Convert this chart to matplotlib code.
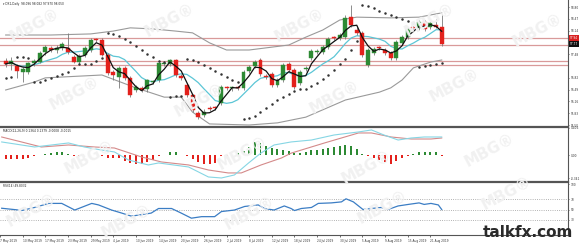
import numpy as np
import pandas as pd
import matplotlib.pyplot as plt
from matplotlib.transforms import blended_transform_factory

# ---- daily candles (DX1, 7 May - 23 Aug 2019) ----
opens = [97.29, 97.21, 97.15, 96.98, 96.98, 97.24, 97.26, 97.54, 97.66, 97.60,
         97.66, 97.66, 97.40, 97.26, 97.46, 97.60, 97.88, 97.88, 97.46, 96.98,
         96.84, 97.10, 96.82, 96.48, 96.54, 96.51, 96.70, 96.76, 97.21, 97.21,
         97.32, 96.87, 96.62, 96.34, 95.84, 95.78, 95.98, 95.98, 96.12, 96.54,
         96.54, 96.54, 96.54, 97.01, 97.15, 97.32, 96.87, 96.93, 96.62, 96.76,
         97.21, 97.04, 96.68, 97.07, 97.38, 97.54, 97.54, 97.68, 97.94, 97.94,
         97.96, 98.52, 98.16, 98.08, 97.18, 97.52, 97.66, 97.60, 97.52, 97.38,
         97.80, 97.96, 98.22, 98.22, 98.38, 98.24, 98.30, 98.24]
highs = [97.38, 97.40, 97.21, 97.12, 97.26, 97.35, 97.57, 97.74, 97.71, 97.74,
         97.82, 98.08, 97.46, 97.49, 97.71, 97.94, 97.94, 97.94, 97.52, 97.04,
         97.15, 97.15, 96.87, 96.62, 96.59, 96.79, 96.76, 97.26, 97.26, 97.35,
         97.35, 96.93, 96.68, 96.37, 95.89, 95.95, 96.03, 96.03, 96.62, 96.59,
         96.59, 96.59, 97.04, 97.18, 97.32, 97.38, 96.93, 96.98, 96.82, 97.24,
         97.26, 97.10, 97.04, 97.15, 97.63, 97.63, 97.74, 97.96, 97.99, 98.08,
         98.58, 98.86, 98.24, 98.13, 97.66, 97.68, 97.71, 97.66, 97.57, 97.88,
         98.02, 98.24, 98.27, 98.44, 98.44, 98.41, 98.47, 98.61]
lows = [97.12, 97.04, 96.82, 96.70, 96.93, 97.15, 97.24, 97.46, 97.54, 97.52,
        97.60, 97.49, 97.24, 97.21, 97.40, 97.54, 97.82, 97.43, 96.90, 96.76,
        96.54, 96.76, 96.28, 96.42, 96.42, 96.42, 96.65, 96.70, 97.15, 97.15,
        96.84, 96.76, 96.28, 95.86, 95.67, 95.72, 95.89, 95.92, 96.06, 96.48,
        96.45, 96.48, 96.48, 96.96, 97.10, 96.87, 96.79, 96.56, 96.56, 96.70,
        96.98, 96.51, 96.62, 97.01, 97.32, 97.49, 97.49, 97.63, 97.88, 97.88,
        97.91, 98.24, 98.02, 97.40, 97.12, 97.46, 97.60, 97.46, 97.32, 97.32,
        97.74, 97.91, 98.16, 98.16, 98.13, 98.19, 98.22, 97.71]
closes = [97.21, 97.29, 97.01, 97.07, 97.24, 97.29, 97.52, 97.68, 97.60, 97.66,
          97.77, 97.54, 97.26, 97.43, 97.66, 97.88, 97.87, 97.46, 96.96, 96.90,
          97.10, 96.82, 96.34, 96.56, 96.48, 96.76, 96.71, 97.24, 97.24, 97.32,
          96.90, 96.82, 96.34, 95.92, 95.72, 95.86, 95.95, 95.97, 96.56, 96.53,
          96.55, 96.53, 96.98, 97.12, 97.26, 96.93, 96.84, 96.62, 96.76, 97.18,
          97.04, 96.56, 96.98, 97.10, 97.57, 97.57, 97.68, 97.91, 97.93, 98.02,
          98.50, 98.30, 98.08, 97.46, 97.60, 97.63, 97.65, 97.52, 97.38, 97.82,
          97.96, 98.19, 98.21, 98.38, 98.19, 98.36, 98.24, 97.77]

# bollinger bands (bar index, price)
bb_up_idx = [0, 8, 15, 19, 22, 26, 30, 33, 36, 39, 43, 47, 50, 53, 56, 59, 62, 68, 73, 77]
bb_up_val = [98.02, 98.02, 98.05, 98.13, 98.22, 98.19, 98.13, 98.08, 97.80, 97.60,
             97.60, 97.68, 97.74, 97.96, 98.16, 98.44, 98.52, 98.50, 98.52, 98.64]
bb_lo_idx = [0, 5, 7, 17, 23, 28, 31, 33, 36, 43, 48, 53, 60, 66, 68, 70, 72, 75, 77]
bb_lo_val = [96.48, 96.70, 96.82, 96.90, 96.54, 96.28, 96.28, 95.86, 95.53, 95.50,
             95.56, 95.72, 96.20, 96.42, 96.54, 96.76, 97.10, 97.26, 97.32]

# horizontal support / resistance levels
levels = [97.936, 97.74, 97.292, 97.18]

# ---- MACD ----
macd_hist = [-0.06, -0.06, -0.06, -0.06, -0.045, -0.015, 0.008, 0.015, 0.03, 0.045,
             0.045, 0.015, -0.008, -0.008, 0.008, 0.008, 0.008, -0.008, -0.045, -0.045,
             -0.045, -0.09, -0.12, -0.135, -0.135, -0.105, -0.075, -0.015, 0.008, 0.045,
             0.045, 0.008, -0.015, -0.06, -0.105, -0.135, -0.135, -0.12, -0.015, -0.008,
             0.008, 0.03, 0.06, 0.12, 0.195, 0.18, 0.135, 0.105, 0.09, 0.075,
             0.06, 0.03, 0.03, 0.045, 0.075, 0.075, 0.09, 0.105, 0.12, 0.135,
             0.15, 0.135, 0.09, 0.015, -0.015, -0.045, -0.075, -0.105, -0.135, -0.09,
             -0.045, -0.015, 0.015, 0.045, 0.045, 0.045, 0.045, -0.015]
sig_idx = [-0.7, 2.8, 6.3, 11.1, 15.7, 19.2, 24, 27.5, 32.3, 35.8, 39.3, 41.6, 45.1,
           48.7, 50.4, 56.3, 62.3, 64.6, 68.1, 71.6, 75.1, 77]
sig_val = [0.271, 0.197, 0.122, 0.152, 0.122, 0.107, -0.027, -0.101, -0.146, -0.221,
           -0.265, -0.265, -0.146, -0.042, 0.03, 0.182, 0.331, 0.331, 0.271, 0.241,
           0.241, 0.256]
main_idx = [-0.7, 5.1, 8.1, 11.1, 13.9, 16.9, 19.2, 21.7, 25.2, 27, 32.3, 35.8, 38.1,
            40.4, 42.9, 45.1, 47.4, 50.4, 54, 58, 62.3, 64.6, 66.8, 69.3, 71.6, 73.9, 77]
main_val = [0.197, 0.122, 0.152, 0.182, 0.122, 0.077, 0.048, -0.072, -0.146, -0.116,
            -0.176, -0.325, -0.34, -0.295, -0.116, 0.033, 0.152, 0.197, 0.226, 0.301,
            0.346, 0.376, 0.301, 0.226, 0.256, 0.271, 0.271]

# ---- RSI(14) ----
rsi_idx = [-0.7, 2.3, 2.8, 5.1, 7.6, 9.9, 12.2, 15.2, 16.4, 18.7, 20.5, 22.2, 24,
           25.7, 27, 29.3, 31, 32.8, 34.6, 36.9, 38.1, 40.4, 42.2, 44.6, 45.7, 47.4,
           49.2, 50.4, 51, 52.2, 54, 55.2, 57.5, 59.3, 60.1, 61.4, 63.1, 64.6, 66.3,
           67.5, 69.3, 71.1, 73, 73.9, 75.1, 76.4, 77]
rsi_val = [52.5, 49, 48, 54, 62, 62, 49, 62, 59, 49, 43, 37, 40, 43, 52, 52, 43, 33,
           36, 36, 46, 49, 56, 59, 52, 49, 57, 52, 48, 52, 54, 62, 63, 65, 71, 65, 50,
           52, 54, 50, 57, 60, 63, 60, 62, 59, 50]

date_idx = [-1, 3, 7, 11, 15, 19, 23, 27, 31, 35, 39, 43, 47, 51, 55, 59, 63, 67, 71, 75]
date_lbl = ["7 May 2019", "10 May 2019", "17 May 2019", "23 May 2019", "29 May 2019",
            "4 Jun 2019", "10 Jun 2019", "14 Jun 2019", "20 Jun 2019", "26 Jun 2019",
            "2 Jul 2019", "8 Jul 2019", "12 Jul 2019", "18 Jul 2019", "24 Jul 2019",
            "30 Jul 2019", "5 Aug 2019", "9 Aug 2019", "15 Aug 2019", "21 Aug 2019"]

UP = "#2d8a34"
DN = "#e3211c"
FS = 2.1


def psar(high, low, step=0.02, max_step=0.2):
    """parabolic SAR computed from the candles"""
    n = len(high)
    sar = np.zeros(n)
    up = True
    af = step
    ep = high[0]
    sar[0] = min(low[:3])
    for i in range(1, n):
        s = sar[i - 1] + af * (ep - sar[i - 1])
        if up:
            s = min(s, low[i - 1], low[max(i - 2, 0)])
            if low[i] < s:
                up, s, ep, af = False, ep, low[i], step
            elif high[i] > ep:
                ep, af = high[i], min(af + step, max_step)
        else:
            s = max(s, high[i - 1], high[max(i - 2, 0)])
            if high[i] > s:
                up, s, ep, af = True, ep, high[i], step
            elif low[i] < ep:
                ep, af = low[i], min(af + step, max_step)
        sar[i] = s
    return sar


def style_axis(ax, sep_lw=1.6):
    ax.patch.set_alpha(0)
    ax.spines["top"].set_visible(False)
    ax.spines["left"].set_visible(False)
    ax.spines["right"].set_color("#555555")
    ax.spines["right"].set_linewidth(0.8)
    ax.spines["bottom"].set_color("#555555")
    ax.spines["bottom"].set_linewidth(sep_lw)
    ax.yaxis.tick_right()
    ax.tick_params(axis="y", labelsize=FS, length=1.0, width=0.5, pad=0.8,
                   colors="#333333")
    ax.tick_params(axis="x", length=0, labelbottom=False)
    ax.set_xlim(-1.0, 99.3)


x = np.arange(len(closes))
o = np.array(opens)
c = np.array(closes)

fig = plt.figure(figsize=(5.8, 2.43), dpi=100)
W = 568 / 580
ax1 = fig.add_axes([0, 1 - 127 / 243, W, 127 / 243])
ax2 = fig.add_axes([0, 1 - 182 / 243, W, 55 / 243])
ax3 = fig.add_axes([0, 1 - 235 / 243, W, 53 / 243])

# faint watermarks behind everything
marks = [(35, 25), (170, 20), (300, 25), (430, 20), (538, 30), (75, 93), (200, 100),
         (335, 97), (455, 85), (90, 157), (243, 153), (367, 167), (490, 150),
         (32, 210), (127, 221), (250, 213), (383, 207), (507, 193)]
for mx, my in marks:
    fig.text(mx / 580, 1 - my / 243, "MBG\u00ae", fontsize=11, fontweight="bold",
             color="#f1f1f1", rotation=28, ha="center", va="center", zorder=0)

# ---- price panel ----
style_axis(ax1)
ax1.set_ylim(95.444, 99.0)
for lv in levels:
    ax1.axhline(lv, color="#d99a9a", lw=0.9, zorder=1)

ax1.plot(bb_up_idx, bb_up_val, color="#9a9a9a", lw=0.8, zorder=2)
ax1.plot(bb_lo_idx, bb_lo_val, color="#9a9a9a", lw=0.8, zorder=2)

ma_fast = pd.Series(closes).rolling(3, min_periods=1).mean()
ma_slow = pd.Series(closes).rolling(8, min_periods=1).mean()
ax1.plot(x, ma_slow, color="#5cc6d6", lw=0.9, zorder=2)

colors = [UP if cc >= oo else DN for oo, cc in zip(o, c)]
ax1.vlines(x, lows, highs, color="#7a7a7a", lw=0.6, zorder=3)
body = np.where(np.abs(c - o) < 0.02, 0.02, c - o)
ax1.bar(x, body, bottom=o, width=0.7, color=colors, edgecolor=colors,
        linewidth=0.3, zorder=4)
ax1.plot(x, ma_fast, color="#111111", lw=0.9, zorder=5)

sar = psar(highs, lows)
ax1.plot(x, sar, ls="none", marker="o", ms=0.8, color="#333333", zorder=5)

ticks = [98.80, 98.47, 98.14, 97.48, 96.82, 96.49, 96.16, 95.83, 95.50]
ax1.set_yticks(ticks)
ax1.set_yticklabels([f"{t:.2f}" for t in ticks])

tr = blended_transform_factory(ax1.transAxes, ax1.transData)
ax1.text(1.003, levels[0], f"{levels[0]:.2f}", transform=tr, fontsize=FS,
         color="white", va="center", ha="left",
         bbox=dict(boxstyle="square,pad=0.3", fc="#d82020", ec="none"))
ax1.text(1.003, closes[-1], f"{closes[-1]:.2f}", transform=tr, fontsize=FS,
         color="white", va="center", ha="left",
         bbox=dict(boxstyle="square,pad=0.3", fc="#111111", ec="none"))
ax1.text(0.005, 0.985, "\u25be DX1,Daily  98.096 98.082 97.970 98.050",
         transform=ax1.transAxes, fontsize=FS, va="top", color="#222222")

# ---- MACD panel ----
style_axis(ax2)
ax2.set_ylim(-0.40, 0.42)
hcol = [UP if h >= 0 else DN for h in macd_hist]
ax2.bar(x, macd_hist, width=0.35, color=hcol)
ax2.plot(sig_idx, sig_val, color="#d48a8a", lw=0.8)
ax2.plot(main_idx, main_val, color="#86d6e4", lw=0.8)
ax2.set_yticks([0.4063, 0.0, -0.3412])
ax2.set_yticklabels(["0.406", "0.00", "-0.341"])
ax2.text(0.005, 0.96, "MACD(12,26,9) 0.1364 0.1379 -0.0008 -0.0015",
         transform=ax2.transAxes, fontsize=FS, va="top", color="#222222")

# ---- RSI panel ----
style_axis(ax3, sep_lw=0.8)
ax3.set_ylim(0, 104)
for lv in (70, 50, 30):
    ax3.axhline(lv, color="#999999", lw=0.6, ls=":")
ax3.plot(rsi_idx, rsi_val, color="#3b7dc4", lw=0.9)
ax3.set_yticks([100, 70, 50, 30])
ax3.set_yticklabels(["100", "70", "50", "30"])
ax3.text(0.005, 0.96, "RSI(14) 49.8032", transform=ax3.transAxes, fontsize=FS,
         va="top", color="#222222")

ax3.set_xticks(date_idx)
ax3.set_xticklabels(date_lbl)
ax3.tick_params(axis="x", labelbottom=True, labelsize=FS, length=1.5, width=0.5,
                pad=1.5, colors="#333333")
for lab in ax3.get_xticklabels():
    lab.set_ha("left")

fig.text(528 / 580, 1 - 232 / 243, "talkfx.com", fontsize=11, fontweight="bold",
         color="#2a2a2a", ha="center", va="center")

fig.savefig("out.png", dpi=100)
